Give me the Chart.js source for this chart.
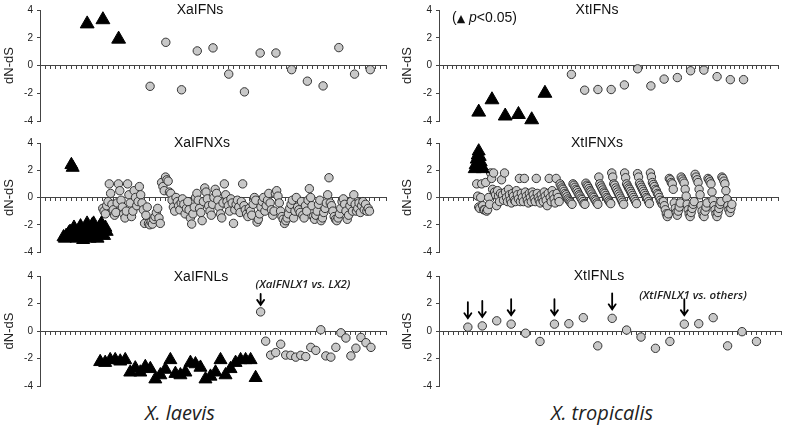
<!DOCTYPE html>
<html>
<head>
<meta charset="utf-8">
<script src="https://cdn.jsdelivr.net/npm/chart.js@4"></script>
<style>
  html, body { margin: 0; padding: 0; background: #fff; }
  #page { position: relative; width: 787px; height: 425px; overflow: hidden; font-family: "Liberation Sans", Arial, sans-serif; color: #111; }
  .panel { position: absolute; }
  .txt { position: absolute; white-space: nowrap; transform: translate(-50%, -50%); z-index: 2; }
  .title { font-size: 14px; }
  .note { font-family: "Open Sans", sans-serif; font-style: italic; font-weight: 600; font-size: 11.5px; color: #222; }
  .species { font-family: "Open Sans", sans-serif; font-style: italic; font-size: 20px; color: #222; }
  #legend { position: absolute; left: 452px; top: 17px; transform: translateY(-50%); font-size: 14px; white-space: nowrap; z-index: 2; }
  #legend .tri { font-family: "DejaVu Sans"; font-size: 11px; }
</style>
</head>
<body>
<div id="page">
  <div class="panel" style="left:0;top:0"><canvas id="tl" width="395" height="131"></canvas></div>
  <div class="panel" style="left:395px;top:0"><canvas id="tr" width="392" height="131"></canvas></div>
  <div class="panel" style="left:0;top:133px"><canvas id="ml" width="395" height="129"></canvas></div>
  <div class="panel" style="left:395px;top:133px"><canvas id="mr" width="392" height="129"></canvas></div>
  <div class="panel" style="left:0;top:266px"><canvas id="bl" width="395" height="130"></canvas></div>
  <div class="panel" style="left:395px;top:266px"><canvas id="br" width="392" height="130"></canvas></div>

  <div class="txt title" style="left:200px;top:9px">XaIFNs</div>
  <div class="txt title" style="left:597px;top:9px">XtIFNs</div>
  <div class="txt title" style="left:202px;top:142px">XaIFNXs</div>
  <div class="txt title" style="left:597px;top:142px">XtIFNXs</div>
  <div class="txt title" style="left:201px;top:276px">XaIFNLs</div>
  <div class="txt title" style="left:599px;top:275px">XtIFNLs</div>
  <div id="legend">(<span class="tri">▲</span> <i>p</i>&lt;0.05)</div>
  <div class="txt note" style="left:303px;top:283px">(XaIFNLX1 vs. LX2)</div>
  <div class="txt note" style="left:693px;top:294px">(XtIFNLX1 vs. others)</div>
  <div class="txt species" style="left:180px;top:412px">X. laevis</div>
  <div class="txt species" style="left:602px;top:412px">X. tropicalis</div>
</div>
<script>
// XaIFNs
const xaIFNsSigStart = 3;
const xaIFNsSig = [3.0, 3.3, 1.9];
const xaIFNsStart = 7;
const xaIFNs = [-1.5, 1.67, -1.75, 1.05, 1.27, -0.62, -1.9, 0.9, 0.9, -0.3, -1.13, -1.47, 1.29, -0.62, -0.3];

// XtIFNs
const xtIFNsSigStart = 3;
const xtIFNsSig = [-3.36, -2.47, -3.64, -3.53, -3.91, -2.0];
const xtIFNsStart = 10;
const xtIFNs = [-0.64, -1.78, -1.73, -1.73, -1.4, -0.24, -1.47, -0.98, -0.87, -0.38, -0.33, -0.8, -1.02, -1.02];

// XaIFNXs
const xaIFNXsSigStart = 18;
const xaIFNXsSig = [-2.9, -3.0, -2.8, -2.9, -2.6, -2.5, 2.4, 2.2, -2.2, -2.7, -3.0, -2.9, -2.4, -2.1, -2.6, -3.1, -2.8,
  -2.2, -1.9, -2.5, -3.0, -2.7, -2.0, -1.9, -2.3, -2.8, -3.0, -2.6, -2.1, -1.9, -2.4, -2.8, -2.2, -2.5];
const xaIFNXsStart = 48;
const xaIFNXs = [
  -0.8, -1.0, -1.2, -0.6, -0.3, 1.0, 0.3, -0.5, -0.9, -1.3, -1.1, -0.4, 1.0, 0.5, -0.2, -0.7, -1.2, -1.5, -1.0, 1.0, 0.2, -0.4, -1.4,
  -1.0, 0.5, 0.0, -0.6, -0.3, 0.8, 0.2, -0.4, -0.9, -1.9, -1.3, -0.7, -1.9,
  -2.0, -1.8, -1.95, -1.6, -1.4, -1.1, -0.8, -1.5, -1.9, 1.1, 0.8, 0.5, 1.5, 1.3,
  1.2, 0.4, 0.3, -0.2, -0.7, -1.0, 0.0, -0.3, -0.6, -0.9, -0.4, -0.1, -0.5, -1.2, -0.8, -0.3,
  -0.9, -1.5, -1.95, -1.2, -0.7, 0.0, 0.3, -0.2, -0.8, -1.1, -1.7, -0.3, 0.7, 0.4,
  -0.1, -0.6, -1.0, -1.3, -0.5, 0.0, 0.6, 0.3, -0.2, -0.7, -1.2, -1.5, -0.4,
  1.0, 0.2, -0.3, -0.6, -1.0, -0.1, -0.4, -1.9, -0.9, -0.5, -0.2, -0.7, -1.1,
  -0.3, 1.0, -0.6, -0.9, -1.2, -1.4, -0.8, -1.0, -1.3, -0.5, 0.0, -0.2, -1.8,
  -1.6, -1.2, -0.7, -0.3, 0.0, -1.0, -0.6, -0.2, 0.3, -0.4, -0.9, -1.3, -1.0,
  0.3, 0.5, 0.1, -0.4, -1.0, -1.4, -1.6, -1.9, -1.7, -1.5, -1.2, -0.8, -0.5,
  -0.2, -1.5, -1.0, 0.0, -0.7, -0.9, -1.1, -0.3, -1.3, -1.5, -0.6, -1.0, -0.2,
  0.65, 0.0, -0.6, -1.4, -1.6, -1.3, -1.0, -0.5, -0.2, -1.7, -1.5, -1.1, -0.8,
  -0.4, 0.2, 1.45, -0.4, -0.6, -1.0, -1.4, -1.6, -1.7, -1.5, -1.2, -0.8, -0.3,
  -0.1, -0.5, -1.0, -1.6, -1.3, -0.6, -0.3, -1.0, 0.2, -0.5, -1.0, -0.8, -0.4, -1.1, -0.6, -0.3, -0.9, -0.5, -1.0, -0.8, -1.0
];

// XtIFNXs
const xtIFNXsSigStart = 36;
const xtIFNXsSig = [2.1, 2.4, 2.8, 3.1, 3.4, 3.0, 2.6, 2.3, 2.1];
const xtIFNXsStart = 38;
const xtIFNXs = [
  1.0, 0.1, -0.7, -0.8, 0.0, 1.0, -0.6, -0.9, -0.9, 1.1, -1.0, -0.9, 0.0, -0.5, 1.8, 1.4, 0.6, 1.8, 0.4, 0.2,
  -0.6, 0.5, 0.1, -0.3, 0.3, 1.3, 0.2, -0.2, 1.8, 0.4, 0.0, -0.3, 0.6, 0.2,
  -0.2, -0.4, 0.3, 0.1, -0.2, -0.3, 0.5, 0.2, -0.1, 1.4, -0.3, 0.3, 0.0, -0.3, 1.4, 0.4, 0.1, -0.2, -0.4, 0.3,
  0.0, -0.3, 0.4, 0.2, -0.1, -0.3, 1.4, 0.3, 0.0, -0.2, -0.4, 0.2, -0.1, -0.3, 0.4, 0.1, -0.2, -0.6, 0.3, 1.4,
  0.0, -0.3, 0.5, 0.2, -0.1, -0.4, 1.4, 0.3, 0.0, -0.3,
  1.0, 0.85, 0.7, 0.6, 0.45, 0.3, 0.2, 0.05, -0.1, -0.2, -0.3, -0.4, -0.5,
  1.0, 0.9, 0.75, 0.6, 0.5, 0.35, 0.2, 0.1, -0.05, -0.15, -0.3, -0.45, -0.5,
  1.05, 0.9, 0.8, 0.65, 0.5, 0.4, 0.25, 0.1, 0.0, -0.15, -0.25, -0.4, -0.5,
  1.5, 1.0, 0.85, 0.7, 0.55, 0.4, 0.3, 0.15, 0.0, -0.1, -0.25, -0.35, -0.45,
  1.8, 1.5, 1.0, 0.9, 0.7, 0.55, 0.4, 0.25, 0.1, -0.05, -0.2, -0.35, -0.5,
  1.8, 1.45, 1.0, 0.85, 0.7, 0.6, 0.45, 0.3, 0.15, 0.0, -0.15, -0.3, -0.45,
  1.75, 1.5, 1.05, 0.9, 0.75, 0.6, 0.45, 0.3, 0.15, 0.0, -0.1, -0.3, -0.45,
  1.8, 1.5, 1.1, 0.95, 0.8, 0.6, 0.5, 0.3, 0.2, 0.0, -0.2, -0.35, -0.5,
  -0.3, -0.6, -0.9, -1.2, -1.4, -1.2, 1.4, 1.3, 1.1, 1.0, 0.6, -0.4, -0.8, -1.1,
  -1.3, -1.0, -0.7, -0.4, 1.5, 1.35, 1.2, 1.05, 0.6, 0.1, -0.5, -0.9, -1.2, -1.4,
  -1.1, -0.8, -0.5, -0.3, 1.7, 1.5, 1.3, 1.1, 0.6, 0.2, -0.6, -1.0, -1.3, -1.4,
  -1.0, -0.7, -0.4, 1.4, 1.3, 1.15, 1.0, 0.4, -0.2, -0.6, -0.9, -1.2, -1.4, -1.1,
  -0.8, -0.5, -0.3, 1.5, 1.4, 1.2, 1.0, 0.5, -0.1, -0.6, -0.9, -1.1, -0.8, -0.5
];

// XaIFNLs
const xaIFNLsSigStart = 12;
const xaIFNLsSig = [-2.24, -2.3, -2.1, -2.1, -2.2, -2.1, -3.0, -2.7, -3.0, -2.6, -2.75, -3.5, -3.2, -2.8, -2.1, -3.1,
  -3.2, -3.0, -2.3, -2.4, -2.65, -3.5, -3.3, -3.0, -2.1, -3.2, -2.75, -2.3, -2.1, -2.1, -2.1, -3.4];
const xaIFNLsStart = 44;
const xaIFNLs = [1.39, -0.74, -1.75, -1.57, -0.96, -1.75, -1.77, -1.9, -1.77, -1.86, -1.19, -1.41, 0.09, -1.81, -1.9,
  -1.19, -0.13, -0.51, -1.81, -1.25, -0.47, -0.85, -1.19];
const xaIFNLsArrows = [44];

// XtIFNLs
const xtIFNLsStart = 2;
const xtIFNLs = [0.28, 0.37, 0.74, 0.5, -0.16, -0.76, 0.5, 0.53, 0.97, -1.08, 0.92, 0.07, -0.44, -1.26, -0.76, 0.5,
  0.53, 0.97, -1.08, -0.05, -0.76];
const xtIFNLsArrows = [2, 3, 5, 8, 12, 17];

const seq = (start, values) => values.map((v, i) => ({ x: start + i, y: v }));
const arrowPts = (idx, start, values) => idx.map(i => ({ x: i, y: values[i - start] }));

const arrowPlugin = {
  id: 'arrows',
  afterDatasetsDraw(chart, args, o) {
    if (!o.points || !o.points.length) return;
    const { ctx } = chart;
    const xs = chart.scales.x, ys = chart.scales.y;
    ctx.save();
    ctx.strokeStyle = '#000';
    ctx.lineWidth = 1.8;
    ctx.lineCap = 'round';
    for (const p of o.points) {
      const px = xs.getPixelForValue(p.x);
      const tip = ys.getPixelForValue(p.y) - o.gap;
      ctx.beginPath();
      ctx.moveTo(px, tip - o.length);
      ctx.lineTo(px, tip);
      ctx.moveTo(px - 3.5, tip - 5);
      ctx.lineTo(px, tip);
      ctx.lineTo(px + 3.5, tip - 5);
      ctx.stroke();
    }
    ctx.restore();
  }
};

function panel(id, cfg) {
  const sig = {
    data: cfg.sig || [],
    pointStyle: 'triangle',
    pointRadius: cfg.triR || 8,
    backgroundColor: '#000',
    borderColor: '#000',
    borderWidth: 1,
    clip: false
  };
  const non = {
    data: cfg.non,
    pointStyle: 'circle',
    pointRadius: 4.2,
    backgroundColor: '#c8c8c8',
    borderColor: '#333',
    borderWidth: 1,
    clip: false
  };
  new Chart(document.getElementById(id), {
    type: 'scatter',
    data: { datasets: [sig, non] },
    plugins: [arrowPlugin],
    options: {
      responsive: false,
      animation: false,
      events: [],
      layout: { padding: { top: 6, bottom: 6, left: 0, right: cfg.padRight } },
      scales: {
        x: {
          type: 'linear',
          min: 0,
          max: cfg.xMax,
          position: { y: 0 },
          ticks: { display: false, stepSize: cfg.step },
          grid: { drawOnChartArea: false, drawTicks: true, tickLength: 3, color: '#444' },
          border: { color: '#444' }
        },
        y: {
          min: -4,
          max: 4,
          ticks: { stepSize: 2, padding: 4, color: '#222', font: { size: 10, family: 'Liberation Sans' } },
          grid: { drawOnChartArea: false, drawTicks: true, tickLength: 3, color: '#444' },
          border: { color: '#444' },
          title: { display: true, text: 'dN-dS', color: '#222', font: { size: 13, family: 'Liberation Sans' }, padding: { top: cfg.titlePad, bottom: 0 } },
          afterFit(s) { s.width = cfg.yWidth; }
        }
      },
      plugins: {
        legend: { display: false },
        tooltip: { enabled: false },
        arrows: { points: cfg.arrows || [], gap: cfg.gap || 8, length: cfg.len || 14 }
      }
    }
  });
}

const L = { yWidth: 40, padRight: 8, titlePad: 2 };
const R = { yWidth: 44, padRight: 6, titlePad: 5 };

panel('tl', { ...L, xMax: 22, step: 1 / 3, sig: seq(xaIFNsSigStart, xaIFNsSig), non: seq(xaIFNsStart, xaIFNs) });
panel('tr', { ...R, xMax: 25.6, step: 1 / 3, sig: seq(xtIFNsSigStart, xtIFNsSig), non: seq(xtIFNsStart, xtIFNs) });
panel('ml', { ...L, xMax: 265, step: 4, triR: 7.5, sig: seq(xaIFNXsSigStart, xaIFNXsSig), non: seq(xaIFNXsStart, xaIFNXs) });
panel('mr', { ...R, xMax: 342, step: 5, triR: 7.5, sig: seq(xtIFNXsSigStart, xtIFNXsSig), non: seq(xtIFNXsStart, xtIFNXs) });
panel('bl', { ...L, xMax: 69.1, step: 1, triR: 7.5, sig: seq(xaIFNLsSigStart, xaIFNLsSig), non: seq(xaIFNLsStart, xaIFNLs),
  arrows: arrowPts(xaIFNLsArrows, xaIFNLsStart, xaIFNLs), gap: 7, len: 11 });
panel('br', { ...R, xMax: 23.7, step: 1 / 3, non: seq(xtIFNLsStart, xtIFNLs),
  arrows: arrowPts(xtIFNLsArrows, xtIFNLsStart, xtIFNLs), gap: 9, len: 16 });
</script>
</body>
</html>
